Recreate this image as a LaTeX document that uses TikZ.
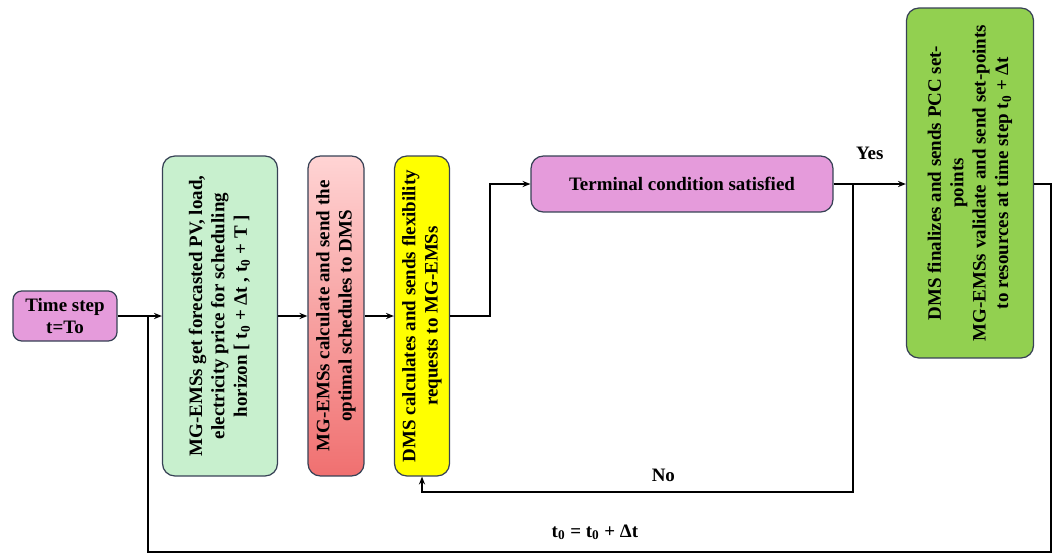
\documentclass[tikz,border=0pt]{standalone}
\usepackage{fontspec}
\setmainfont{Liberation Serif}
\usepackage{xcolor}
\usetikzlibrary{arrows.meta,calc}

\definecolor{boxline}{RGB}{55,65,85}
\definecolor{stepfill}{RGB}{229,155,219}
\definecolor{fcastfill}{RGB}{200,240,206}
\definecolor{optop}{RGB}{255,212,212}
\definecolor{opbot}{RGB}{240,112,112}
\definecolor{flexfill}{RGB}{255,255,0}
\definecolor{finfill}{RGB}{146,208,80}

\tikzset{
  box/.style={draw=boxline, line width=0.7pt, rounded corners=7pt, align=center,
    inner sep=0pt, font=\fontsize{10.8}{12.8}\selectfont\bfseries},
  arr/.style={line width=0.9pt, -{Stealth[length=4.5pt,width=3.5pt]}},
  wire/.style={line width=0.9pt},
  lbl/.style={font=\fontsize{10.8}{12.8}\selectfont\bfseries},
}
\newcommand{\vtext}[1]{\rotatebox{90}{\begin{tabular}{@{}c@{}}#1\end{tabular}}}

\begin{document}
\begin{tikzpicture}[x=0.02cm, y=-0.02cm]
    \useasboundingbox (0,0) rectangle (1056,555);

    % Boxes
    \node[box, fill=stepfill, minimum width=2.08cm, minimum height=1cm, rounded corners=5pt] (step) at (65,316) {Time step\\t=To};
    \node[box, fill=fcastfill, minimum width=2.3cm, minimum height=6.4cm] (fcast) at (220,316)
        {\vtext{MG-EMSs get forecasted PV, load,\\electricity price for scheduling\\horizon [ t\textsubscript{0} + Δt , t\textsubscript{0} + T ]}};
    \node[box, top color=optop, bottom color=opbot, minimum width=1.12cm, minimum height=6.4cm] (opt) at (336,316)
        {\vtext{MG-EMSs calculate and send the\\optimal schedules to DMS}};
    \node[box, fill=flexfill, minimum width=1.1cm, minimum height=6.4cm] (flex) at (422,316)
        {\vtext{DMS calculates and sends flexibility\\requests to MG-EMSs}};
    \node[box, fill=stepfill, minimum width=6.04cm, minimum height=1.12cm] (term) at (682,184) {Terminal condition satisfied};
    \node[box, fill=finfill, minimum width=2.54cm, minimum height=7cm] (fin) at (970,183)
        {\vtext{DMS finalizes and sends PCC set-\\points\\MG-EMSs validate and send set-points\\to resources at time step t\textsubscript{0} + Δt}};

    % Forward path
    \draw[arr] (step.east) -- (step.east -| fcast.west);
    \draw[arr] (fcast.east |- step) -- (opt.west |- step);
    \draw[arr] (opt.east |- step) -- (flex.west |- step);
    \draw[arr] (flex.east |- step) -- ++(40,0) |- (term.west);
    \draw[arr] (term.east) -- node[lbl, above=10pt] {Yes} (fin.west |- term.east);

    % No branch
    \coordinate (nojoin) at (853,184);
    \coordinate (nocorner) at (853,492);
    \draw[arr] (nojoin) -- (nocorner) -| node[lbl, pos=0.22, above=2pt] {No} (flex.south);

    % Next time step
    \coordinate (loopR) at (1051,184);
    \coordinate (loopB) at (1051,552);
    \coordinate (loopL) at (148,552);
    \draw[wire] (fin.east |- term.east) -- (loopR) -- (loopB)
        -- node[lbl, pos=0.505, above=3pt] {t\textsubscript{0} = t\textsubscript{0} + Δt} (loopL) -- (loopL |- step);
\end{tikzpicture}
\end{document}
